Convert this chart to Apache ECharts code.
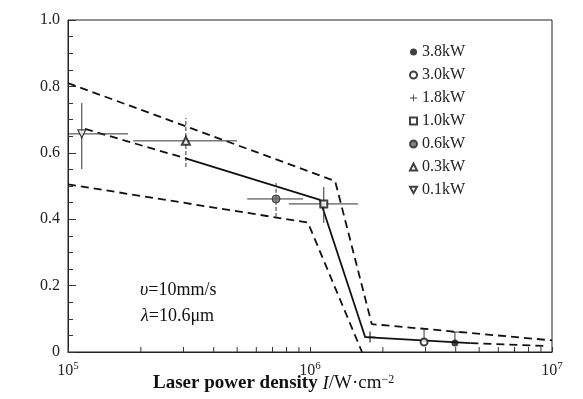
<!DOCTYPE html>
<html><head><meta charset="utf-8">
<script src="https://cdn.jsdelivr.net/npm/echarts@6/dist/echarts.min.js"></script>
<style>html,body{margin:0;padding:0;background:#fff}#c{width:583px;height:399px}</style>
</head><body><div id="c"></div>
<script>
// ---- data ----
const powers = ['3.8kW','3.0kW','1.8kW','1.0kW','0.6kW','0.3kW','0.1kW'];
const pointX = [3.97e6, 2.96e6, 1.77e6, 1.14e6, 7.24e5, 3.07e5, 1.14e5];
const pointY = [0.027, 0.030, 0.045, 0.446, 0.461, 0.636, 0.657];
const errXLow  = [null, null, null, 8.18e5, 5.5e5, 1.86e5, 0.9e5];
const errXHigh = [null, null, null, 1.58e6, 9.35e5, 4.99e5, 1.77e5];
const errYLow  = [null, 0.030, null, 0.389, 0.407, 0.557, 0.551];
const errYHigh = [0.060, 0.069, null, 0.497, 0.509, 0.705, 0.750];

const upperX = [1e5, 1.27e6, 1.80e6, 1e7];
const upperY = [0.81, 0.515, 0.084, 0.035];
const lowerX = [1e5, 9.8e5, 1.64e6];
const lowerY = [0.505, 0.39, 0.0];
const midLeftX = [1.176e5, 3.04e5];
const midLeftY = [0.672, 0.584];
const midX = [3.04e5, 1.1e6, 1.69e6, 4.6e6];
const midY = [0.584, 0.458, 0.045, 0.027];
const midRightX = [4.6e6, 9.5e6];
const midRightY = [0.027, 0.018];

const xMinorTicks = [2e5,3e5,4e5,5e5,6e5,7e5,8e5,9e5,2e6,3e6,4e6,5e6,6e6,7e6,8e6,9e6];

// ---- styling ----
const SERIF = '"Liberation Serif","DejaVu Serif",serif';
const pair = (xs, ys) => xs.map((x, i) => [x, ys[i]]);
const dashedV = {'0.6kW': true, '0.3kW': true};
const capped = {'3.8kW': true};

const symbols = {
  '3.8kW': {symbol: 'circle', size: 7, itemStyle: {color: '#111'}},
  '3.0kW': {symbol: 'emptyCircle', size: 7, itemStyle: {color: '#111', borderWidth: 1.2}},
  '1.8kW': {symbol: 'path://M4.4,0h1.2v4.4h4.4v1.2h-4.4v4.4h-1.2v-4.4h-4.4v-1.2h4.4z', size: 11, itemStyle: {color: '#111'}},
  '1.0kW': {symbol: 'emptyRect', size: 7, itemStyle: {color: '#111', borderWidth: 1.2}},
  '0.6kW': {symbol: 'circle', size: 8, itemStyle: {color: '#666', borderColor: '#222', borderWidth: 1}},
  '0.3kW': {symbol: 'emptyTriangle', size: 8, itemStyle: {color: '#111', borderWidth: 1.2}},
  '0.1kW': {symbol: 'path://M0,0L10,0L5,9Z', size: 8, itemStyle: {color: '#fff', borderColor: '#111', borderWidth: 1.2}}
};

const lineStyleDash = {color: '#111', width: 1.8, type: [8, 5]};
function lineSeries(name, data, style) {
  return {type: 'line', name: name, data: data, symbol: 'none', silent: true, z: 2,
    lineStyle: style, animation: false};
}

const series = [
  lineSeries('upper', pair(upperX, upperY), lineStyleDash),
  lineSeries('lower', pair(lowerX, lowerY), lineStyleDash),
  lineSeries('midLeft', pair(midLeftX, midLeftY), lineStyleDash),
  lineSeries('mid', pair(midX, midY), {color: '#111', width: 1.8, type: 'solid'}),
  lineSeries('midRight', pair(midRightX, midRightY), lineStyleDash),
  {
    type: 'custom', name: 'errors', clip: true, silent: true, z: 3, animation: false,
    data: powers.map((p, i) => [pointX[i], pointY[i]]),
    encode: {x: 0, y: 1},
    renderItem: function (params, api) {
      const i = params.dataIndex;
      const name = powers[i];
      const ch = [];
      const st = {stroke: '#333', lineWidth: 1};
      if (errXLow[i] != null) {
        const a = api.coord([errXLow[i], pointY[i]]), b = api.coord([errXHigh[i], pointY[i]]);
        ch.push({type: 'line', shape: {x1: a[0], y1: a[1], x2: b[0], y2: b[1]}, style: st});
      }
      if (errYHigh[i] != null) {
        const lo = errYLow[i] != null ? errYLow[i] : pointY[i];
        const a = api.coord([pointX[i], lo]), b = api.coord([pointX[i], errYHigh[i]]);
        ch.push({type: 'line', shape: {x1: a[0], y1: a[1], x2: b[0], y2: b[1]},
          style: dashedV[name] ? {stroke: '#333', lineWidth: 1, lineDash: [4, 2]} : st});
        if (capped[name]) {
          ch.push({type: 'line', shape: {x1: b[0] - 4, y1: b[1], x2: b[0] + 4, y2: b[1]}, style: st});
        }
      }
      return {type: 'group', children: ch};
    }
  },
  {
    type: 'custom', name: 'minorTicks', silent: true, z: 1, animation: false,
    data: xMinorTicks.map(v => [v, 0]),
    encode: {x: 0, y: 1},
    renderItem: function (params, api) {
      const p = api.coord([api.value(0), 0]);
      return {type: 'line', shape: {x1: p[0], y1: p[1], x2: p[0], y2: p[1] - 5},
        style: {stroke: '#333', lineWidth: 1}};
    }
  }
];

powers.forEach((p, i) => {
  const s = symbols[p];
  series.push({
    type: 'scatter', name: p, data: [[pointX[i], pointY[i]]],
    symbol: s.symbol, symbolSize: s.size, itemStyle: s.itemStyle, z: 5, animation: false
  });
});

const chart = echarts.init(document.getElementById('c'), null, {renderer: 'canvas'});
chart.setOption({
  animation: false,
  backgroundColor: '#fff',
  grid: {left: 68, right: 31, top: 20, bottom: 47, show: true, borderColor: '#222', borderWidth: 1},
  legend: {
    data: powers, orient: 'vertical', left: 404, top: 39,
    itemWidth: 7, itemHeight: 7, itemGap: 7, selectedMode: false,
    textStyle: {fontFamily: SERIF, fontSize: 16, color: '#222'}
  },
  xAxis: {
    type: 'log', logBase: 10, min: 1e5, max: 1e7,
    axisLine: {lineStyle: {color: '#222', width: 1}},
    axisTick: {inside: true, length: 5, lineStyle: {color: '#333'}},
    splitLine: {show: false},
    axisLabel: {
      margin: 9,
      formatter: v => '{b|10}{s|' + Math.round(Math.log10(v)) + '}',
      rich: {
        b: {fontFamily: SERIF, fontSize: 16, color: '#222', lineHeight: 20},
        s: {fontFamily: SERIF, fontSize: 11, color: '#222', verticalAlign: 'top', lineHeight: 12}
      }
    }
  },
  yAxis: {
    type: 'value', min: 0, max: 1, interval: 0.2,
    axisLine: {show: true, lineStyle: {color: '#222', width: 1}},
    axisTick: {show: true, inside: true, length: 8, lineStyle: {color: '#333'}},
    minorTick: {show: true, splitNumber: 4, length: 5, lineStyle: {color: '#333'}},
    splitLine: {show: false},
    axisLabel: {
      margin: 8, fontFamily: SERIF, fontSize: 16, color: '#222',
      formatter: v => (v === 0 ? '0' : v.toFixed(1))
    }
  },
  graphic: [
    {type: 'text', left: 153, top: 374, style: {
      text: '{b|Laser power density }{i|I}{r|/W·cm}{s|−2}',
      rich: {
        b: {fontFamily: SERIF, fontSize: 19, fontWeight: 'bold', fill: '#111'},
        i: {fontFamily: SERIF, fontSize: 19, fontStyle: 'italic', fill: '#111'},
        r: {fontFamily: SERIF, fontSize: 19, fill: '#111'},
        s: {fontFamily: SERIF, fontSize: 12, fill: '#111', verticalAlign: 'top'}
      }}},
    {type: 'text', left: 140, top: 281, style: {
      text: '{i|υ}{r|=10mm/s}',
      rich: {
        i: {fontFamily: SERIF, fontSize: 18, fontStyle: 'italic', fill: '#111'},
        r: {fontFamily: SERIF, fontSize: 18, fill: '#111'}
      }}},
    {type: 'text', left: 141, top: 307, style: {
      text: '{i|λ}{r|=10.6μm}',
      rich: {
        i: {fontFamily: SERIF, fontSize: 18, fontStyle: 'italic', fill: '#111'},
        r: {fontFamily: SERIF, fontSize: 18, fill: '#111'}
      }}}
  ],
  series: series
});
</script>
</body></html>
